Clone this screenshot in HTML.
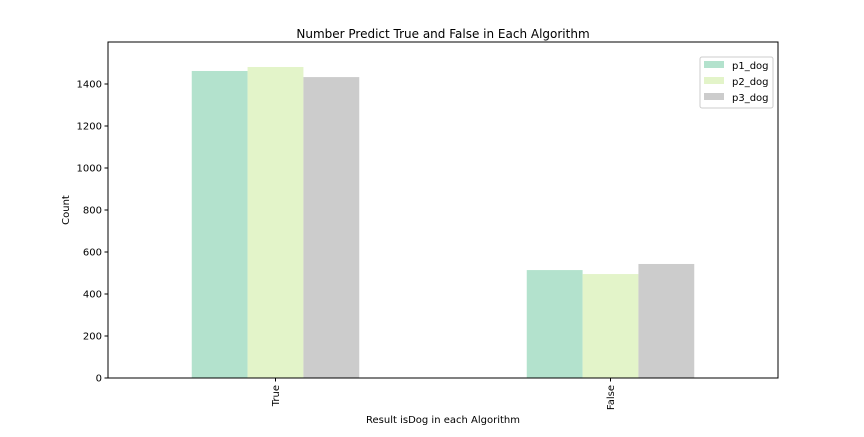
<!DOCTYPE html>
<html><head><meta charset="utf-8"><style>
body{margin:0;background:#fff;font-family:"Liberation Sans","DejaVu Sans",sans-serif;}
svg text{font-family:"DejaVu Sans","Liberation Sans",sans-serif;}
</style></head><body>
<svg id="chart" width="864" height="432" xmlns="http://www.w3.org/2000/svg"></svg>
<script>
const categories = ["True", "False"];
const seriesNames = ["p1_dog", "p2_dog", "p3_dog"];
const p1Values = [1462, 514];
const p2Values = [1481, 495];
const p3Values = [1433, 543];
const yTicks = [0, 200, 400, 600, 800, 1000, 1200, 1400];
const colors = ["#b3e2cd", "#e3f4c9", "#cccccc"];
const series = [p1Values, p2Values, p3Values];

const svg = document.getElementById('chart');
const NS = "http://www.w3.org/2000/svg";
const L = 108, R = 778, T = 42, B = 378;
const y = v => B - v * 0.21;
const band = (R - L) / categories.length;
const x = i => L + band * (i + 0.5);
const bw = band * 0.5 / series.length;

function mk(tag, attrs, parent) {
  const e = document.createElementNS(NS, tag);
  for (const k in attrs) e.setAttribute(k, attrs[k]);
  (parent || svg).appendChild(e);
  return e;
}
function txt(s, attrs) { const t = mk('text', attrs); t.textContent = s; return t; }

series.forEach((vals, s) => {
  vals.forEach((v, i) => {
    const r = mk('rect', {x: x(i) - band * 0.25 + s * bw, y: y(v), width: bw, height: B - y(v), fill: colors[s]});
    
    
  });
});

const frame = mk('rect', {x: L, y: T, width: R - L, height: B - T, fill: 'none', stroke: '#000', 'stroke-width': 1});



yTicks.forEach(v => {
  mk('line', {x1: L - 3.5, x2: L, y1: y(v), y2: y(v), stroke: '#000'});
  const t = txt(String(v), {x: L - 6, y: y(v) + 3.5, 'text-anchor': 'end', 'font-size': 10});
  
  
});
categories.forEach((c, i) => {
  mk('line', {x1: x(i), x2: x(i), y1: B, y2: B + 3.5, stroke: '#000'});
  const t = txt(c, {x: x(i) + 3.5, y: B + 7, 'text-anchor': 'end', 'font-size': 10, transform: `rotate(-90 ${x(i) + 3.5} ${B + 7})`});
  
  
});

const title = txt("Number Predict True and False in Each Algorithm", {x: (L + R) / 2, y: 46, dy: -8, 'text-anchor': 'middle', 'font-size': 12});


const xt = txt("Result isDog in each Algorithm", {x: (L + R) / 2, y: 423, 'text-anchor': 'middle', 'font-size': 10});


const yt = txt("Count", {x: 69, y: (T + B) / 2, 'text-anchor': 'middle', 'font-size': 10, transform: `rotate(-90 69 ${(T + B) / 2})`});



const lg = mk('g', {});


mk('rect', {x: 700, y: 57, width: 73, height: 51, fill: '#fff', stroke: '#ccc', rx: 2}, lg);
seriesNames.forEach((n, s) => {
  const g = mk('g', {}, lg);
  
  
  mk('rect', {x: 704, y: 61 + s * 16, width: 20, height: 7, fill: colors[s]}, g);
  const t = mk('text', {x: 732, y: 69 + s * 16, 'font-size': 10}, g);
  t.textContent = n;
});
</script>
</body></html>
